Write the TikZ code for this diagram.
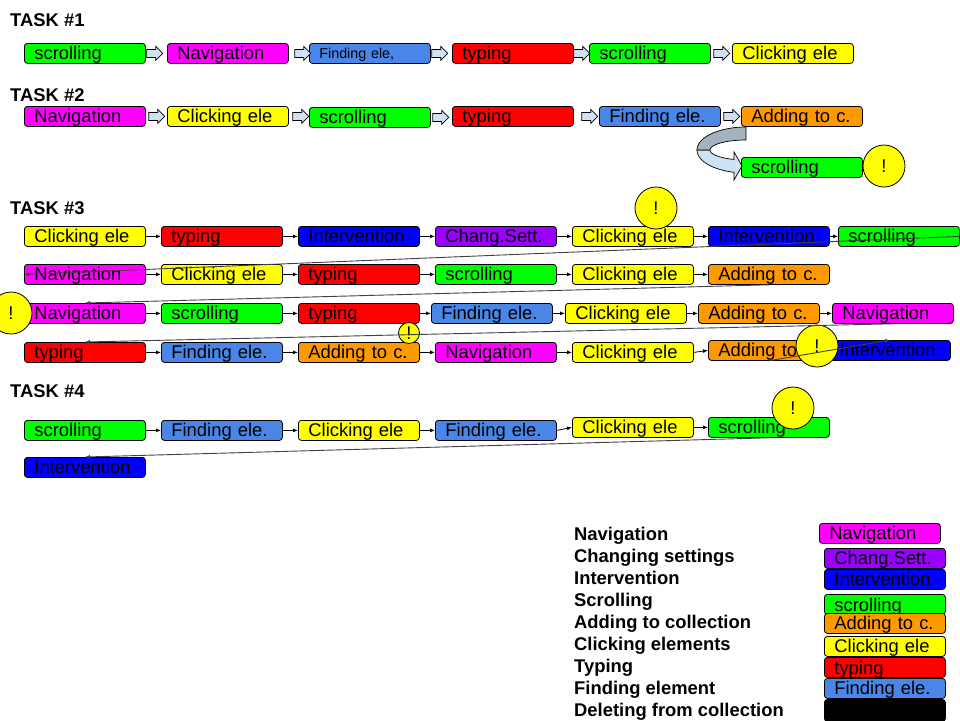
\documentclass[tikz,border=0pt]{standalone}
\usepackage{fontspec}
\setmainfont{Liberation Sans}
\usetikzlibrary{arrows.meta,calc}
\definecolor{cgreen}{HTML}{00FF00}
\definecolor{cmag}{HTML}{FF00FF}
\definecolor{cfind}{HTML}{4A86E8}
\definecolor{cred}{HTML}{FF0000}
\definecolor{cyel}{HTML}{FFFF00}
\definecolor{corange}{HTML}{FF9900}
\definecolor{cint}{HTML}{0000FF}
\definecolor{cpurple}{HTML}{9900FF}
\definecolor{clight}{HTML}{CFE2F3}
\definecolor{cback}{HTML}{A4B2C0}
\newcommand\boxfont{\fontsize{18.4}{20}\selectfont}
\newcommand\smallboxfont{\fontsize{14.3}{16}\selectfont}
\newcommand\barrow[1]{\draw[barrowstyle] (#1) ++(0,-4) -- ++(9,0) -- ++(0,-3) -- ++(7,7) -- ++(-7,7) -- ++(0,-3) -- ++(-9,0) -- cycle;}
\tikzset{
  box/.style={draw=black, line width=0.8pt, rounded corners=3pt, fill=#1,
    anchor=north west, minimum width=121pt, minimum height=20pt,
    text width=101pt, inner xsep=10pt, inner ysep=0.5pt,
    text height=16pt, text depth=3pt, align=left, font=\boxfont},
  excl/.style={circle, draw=black, line width=0.8pt, fill=cyel,
    minimum size=42pt, inner sep=0pt, font=\boxfont},
  smallexcl/.style={excl, minimum size=21pt},
  tasklabel/.style={anchor=base west, inner sep=0pt, font=\bfseries\boxfont},
  leglabel/.style={anchor=base west, inner sep=0pt, font=\bfseries\boxfont},
  barrowstyle/.style={draw=black, line width=0.7pt, fill=clight, line join=miter},
  link/.style={draw=black, line width=0.8pt, -{Latex[length=5pt,width=4pt]}},
  wrap/.style={draw=black!75, line width=0.9pt, -{Latex[length=5pt,width=4pt]}},
}
\begin{document}
\begin{tikzpicture}[x=1pt,y=-1pt]
\useasboundingbox (0,0) rectangle (960,720);

% ---------- TASK 1
\node[tasklabel] (L1) at (10,27) {TASK \#1};
\node[box=cgreen] (t1a) at (24,43) {scrolling};
\node[box=cmag] (t1b) at (167,43) {Navigation};
\node[box=cfind, font=\smallboxfont, text height=15pt, text depth=4pt] (t1c) at (309,43) {Finding ele,};
\node[box=cred] (t1d) at (452,43) {typing};
\node[box=cgreen] (t1e) at (589,43) {scrolling};
\node[box=cyel] (t1f) at (732,43) {Clicking ele};
\barrow{$(t1a.east)+(1,0)$}
\barrow{$(t1b.east)+(6,0)$}
\barrow{$(t1c.east)+(1,0)$}
\barrow{$(t1d.east)+(0,0)$}
\barrow{$(t1e.east)+(3,0)$}

% ---------- TASK 2
\node[tasklabel] (L2) at (10,101) {TASK \#2};
\node[box=cmag] (t2a) at (24,106) {Navigation};
\node[box=cyel] (t2b) at (167,106) {Clicking ele};
\node[box=cgreen] (t2c) at (309,107) {scrolling};
\node[box=cred] (t2d) at (452,106) {typing};
\node[box=cfind] (t2e) at (599,106) {Finding ele.};
\node[box=corange] (t2f) at (741,106) {Adding to c.};
\node[box=cgreen] (t2g) at (741,157) {scrolling};
\node[excl] (x1) at (884,166) {!};
\barrow{$(t2a.east)+(3,0)$}
\barrow{$(t2b.east)+(4,0)$}
\barrow{$(t2c.east)+(2,0)$}
\barrow{$(t2d.east)+(8,0)$}
\barrow{$(t2e.east)+(3,0)$}
% curved block arrow from Adding to c. down to scrolling
\filldraw[barrowstyle]
  plot[domain=180:104.2, samples=30, variable=\t] ({746+49*cos(\t)},{150+23*sin(\t)})
  -- (734,180) -- (742,166) -- (734,152)
  -- plot[domain=109.5:180, samples=30, variable=\t] ({746+36*cos(\t)},{150+10*sin(\t)})
  -- cycle;
\filldraw[barrowstyle, fill=cback]
  plot[domain=270:180, samples=30, variable=\t] ({746+49*cos(\t)},{150+23*sin(\t)})
  -- plot[domain=180:270, samples=30, variable=\t] ({746+36*cos(\t)},{150+10*sin(\t)})
  -- cycle;

% ---------- TASK 3
\node[tasklabel] (L3) at (10,214) {TASK \#3};
% row 1
\node[box=cyel] (r1a) at (24,226) {Clicking ele};
\node[box=cred] (r1b) at (161,226) {typing};
\node[box=cint] (r1c) at (298,226) {Intervention};
\node[box=cpurple] (r1d) at (435,226) {Chang.Sett.};
\node[box=cyel] (r1e) at (572,226) {Clicking ele};
\node[box=cint] (r1f) at (708,226) {Intervention};
\node[box=cgreen] (r1g) at (838,226) {scrolling};
% row 2
\node[box=cmag] (r2a) at (24,264) {Navigation};
\node[box=cyel] (r2b) at (161,264) {Clicking ele};
\node[box=cred] (r2c) at (298,264) {typing};
\node[box=cgreen] (r2d) at (435,264) {scrolling};
\node[box=cyel] (r2e) at (572,264) {Clicking ele};
\node[box=corange] (r2f) at (708,264) {Adding to c.};
% row 3
\node[box=cmag] (r3a) at (24,303) {Navigation};
\node[box=cgreen] (r3b) at (161,303) {scrolling};
\node[box=cred] (r3c) at (298,303) {typing};
\node[box=cfind] (r3d) at (431,303) {Finding ele.};
\node[box=cyel] (r3e) at (565,303) {Clicking ele};
\node[box=corange] (r3f) at (698,303) {Adding to c.};
\node[box=cmag] (r3g) at (832,303) {Navigation};
% row 4
\node[box=cred] (r4a) at (24,342) {typing};
\node[box=cfind] (r4b) at (161,342) {Finding ele.};
\node[box=corange] (r4c) at (298,342) {Adding to c.};
\node[box=cmag] (r4d) at (435,342) {Navigation};
\node[box=cyel] (r4e) at (572,342) {Clicking ele};
\node[box=corange] (r4f) at (708,340) {Adding to c.};
\node[box=cint] (r4g) at (829,340) {Intervention};
% exclamation marks
\node[excl] (x2) at (656,208) {!};
\node[excl] (x3) at (11,313) {!};
\node[smallexcl] (x4) at (409,333) {!};
\node[excl] (x5) at (817,346) {!};
% links
\foreach \a/\b in {r1a/r1b,r1b/r1c,r1c/r1d,r1d/r1e,r1e/r1f,r1f/r1g,
                   r2a/r2b,r2b/r2c,r2c/r2d,r2d/r2e,r2e/r2f,
                   r3a/r3b,r3b/r3c,r3c/r3d,r3d/r3e,r3e/r3f,r3f/r3g,
                   r4a/r4b,r4b/r4c,r4c/r4d,r4d/r4e,r4e/r4f}
  \draw[link] (\a.east) -- (\b.west);
\draw[wrap] (r1g.east) -- (r2a.west);
\draw[wrap] (r2f.south) -- (r3a.north);
\draw[wrap] (r3g.south) -- (r4a.north);
\draw[wrap] (r4f.south) -- (r4g.north);

% ---------- TASK 4
\node[tasklabel] (L4) at (10,397) {TASK \#4};
\node[box=cgreen] (t4a) at (24,420) {scrolling};
\node[box=cfind] (t4b) at (161,420) {Finding ele.};
\node[box=cyel] (t4c) at (298,420) {Clicking ele};
\node[box=cfind] (t4d) at (435,420) {Finding ele.};
\node[box=cyel] (t4e) at (572,417) {Clicking ele};
\node[box=cgreen] (t4f) at (708,417) {scrolling};
\node[box=cint] (t4g) at (24,457) {Intervention};
\node[excl] (x6) at (793,408) {!};
\foreach \a/\b in {t4a/t4b,t4b/t4c,t4c/t4d,t4d/t4e,t4e/t4f}
  \draw[link] (\a.east) -- (\b.west);
\draw[wrap] (t4f.south) -- (t4g.north);

% ---------- LEGEND
\node[leglabel] (g1) at (574,540) {Navigation};
\node[leglabel] (g2) at (574,562) {Changing settings};
\node[leglabel] (g3) at (574,584) {Intervention};
\node[leglabel] (g4) at (574,606) {Scrolling};
\node[leglabel] (g5) at (574,628) {Adding to collection};
\node[leglabel] (g6) at (574,650) {Clicking elements};
\node[leglabel] (g7) at (574,672) {Typing};
\node[leglabel] (g8) at (574,694) {Finding element};
\node[leglabel] (g9) at (574,716) {Deleting from collection};

\node[box=cmag] (k1) at (819,523) {Navigation};
\node[box=cpurple] (k2) at (824,548) {Chang.Sett.};
\node[box=cint] (k3) at (824,569) {Intervention};
\node[box=cgreen, text height=17pt, text depth=2pt] (k4) at (824,594) {scrolling};
\node[box=corange] (k5) at (824,613) {Adding to c.};
\node[box=cyel] (k6) at (824,636) {Clicking ele};
\node[box=cred, text height=17pt, text depth=2pt] (k7) at (824,657) {typing};
\node[box=cfind] (k8) at (824,678) {Finding ele.};
\node[box=black, minimum height=22pt] (k9) at (824,699) {};
\end{tikzpicture}
\end{document}
